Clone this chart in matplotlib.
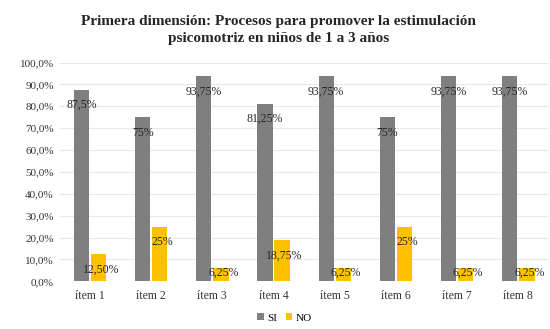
import matplotlib.pyplot as plt
import numpy as np

items = ["ítem 1", "ítem 2", "ítem 3", "ítem 4", "ítem 5", "ítem 6", "ítem 7", "ítem 8"]
si = [87.5, 75, 93.75, 81.25, 93.75, 75, 93.75, 93.75]
no = [12.5, 25, 6.25, 18.75, 6.25, 25, 6.25, 6.25]
si_labels = ["87,5%", "75%", "93,75%", "81,25%", "93,75%", "75%", "93,75%", "93,75%"]
no_labels = ["12,50%", "25%", "6,25%", "18,75%", "6,25%", "25%", "6,25%", "6,25%"]
yticks = [0, 10, 20, 30, 40, 50, 60, 70, 80, 90, 100]
ytick_labels = ["0,0%", "10,0%", "20,0%", "30,0%", "40,0%", "50,0%", "60,0%", "70,0%", "80,0%", "90,0%", "100,0%"]

plt.rcParams['font.family'] = ['Liberation Serif', 'DejaVu Serif']

fig = plt.figure(figsize=(5.5, 3.29), dpi=100)
ax = fig.add_axes([0.108, 0.145, 0.89, 0.665])

x = np.arange(len(items))
w = 0.25
gap = 0.015
ax.bar(x - w/2 - gap, si, w, color='#7f7f7f', label='SI', zorder=2)
ax.bar(x + w/2 + gap, no, w, color='#ffc000', label='NO', zorder=2)

for i in range(len(items)):
    ax.text(x[i] - w/2 - gap, si[i] - 7, si_labels[i], ha='center', va='center', fontsize=8.5, color='#262626', zorder=3)
    ny = max(no[i] - 7, 4)
    ax.text(x[i] + w/2 + gap + 0.04, ny, no_labels[i], ha='center', va='center', fontsize=8.5, color='#262626', zorder=3)

ax.set_xlim(-0.5, len(items) - 0.5)
ax.set_ylim(0, 100)
ax.set_yticks(yticks)
ax.set_yticklabels(ytick_labels, fontsize=8, color='#333333')
ax.set_xticks(x)
ax.set_xticklabels(items, fontsize=8.5, color='#333333')
ax.tick_params(length=0, pad=6)
ax.tick_params(axis='y', pad=4)
ax.grid(axis='y', color='#e8e8e8', linewidth=0.8, zorder=0)
for s in ax.spines.values():
    s.set_visible(False)

fig.suptitle("Primera dimensión: Procesos para promover la estimulación\npsicomotriz en niños de 1 a 3 años",
             fontsize=11, fontweight='bold', color='#262626', y=0.955, x=0.507, linespacing=1.45)

ax.legend(loc='upper center', bbox_to_anchor=(0.46, -0.1), ncol=2, frameon=False,
          fontsize=8, handlelength=0.6, handleheight=0.6, handletextpad=0.3, columnspacing=0.8)

fig.savefig("out.png", dpi=100)
